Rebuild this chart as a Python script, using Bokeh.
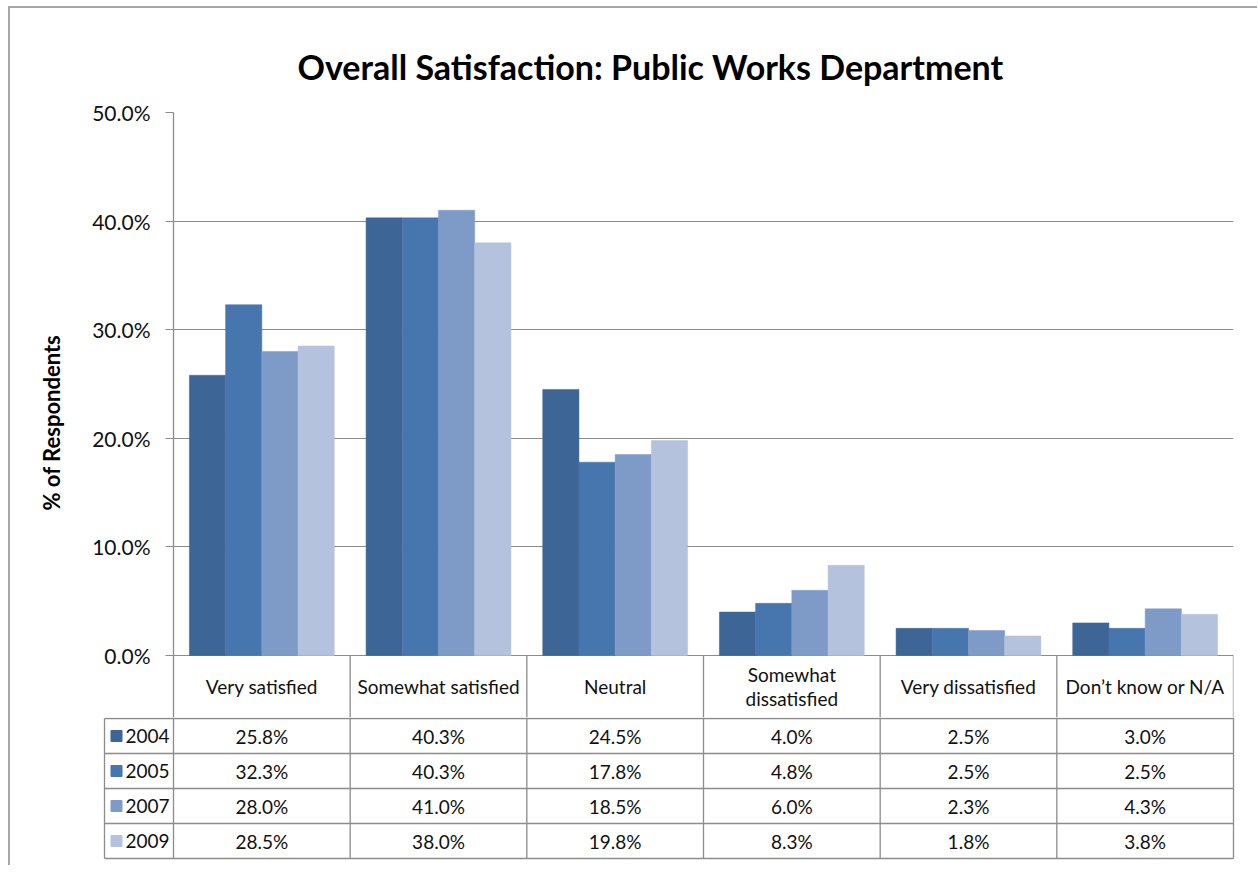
from bokeh.plotting import figure
from bokeh.models import Range1d, FixedTicker, PrintfTickFormatter, ColumnDataSource, Title
from bokeh.layouts import column
from bokeh.embed import file_html
from bokeh.resources import INLINE
from bokeh.core.properties import value

categories = ["Very satisfied", "Somewhat satisfied", "Neutral",
              "Somewhat\ndissatisfied", "Very dissatisfied", "Don\u2019t know or N/A"]
years = ["2004", "2005", "2007", "2009"]
v2004 = [25.8, 40.3, 24.5, 4.0, 2.5, 3.0]
v2005 = [32.3, 40.3, 17.8, 4.8, 2.5, 2.5]
v2007 = [28.0, 41.0, 18.5, 6.0, 2.3, 4.3]
v2009 = [28.5, 38.0, 19.8, 8.3, 1.8, 3.8]
series = [v2004, v2005, v2007, v2009]
colors = ["#3d6596", "#4775ae", "#7e9bc8", "#b4c2de"]
y_ticks = [0, 10, 20, 30, 40, 50]

FONT = "Lato"
GRID = "#8c8c8c"
TXT = "#111111"

W = 1249
PX = 1060 / 6.0          # pixels per category
PY = 543 / 50.0          # pixels per percent
HEAD_H = 64              # px height of the table header row (category names)
Y0 = -HEAD_H / PY

# ---------- chart (with table header row) ----------
p = figure(width=W, height=711, x_range=Range1d(0, 6), y_range=Range1d(Y0, 50),
           output_backend="svg", toolbar_location=None, x_axis_location=None,
           min_border_left=163, min_border_right=26, min_border_top=104,
           min_border_bottom=0, title="Overall Satisfaction: Public Works Department")
p.frame_align = False
p.outline_line_color = None
p.title.text_font = FONT
p.title.text_font_size = "34px"
p.title.text_font_style = "bold"
p.title.text_color = "#000000"
p.title.align = "left"
p.title.offset = 124
p.title.standoff = 51

bw = 0.205
for k, (vals, c) in enumerate(zip(series, colors)):
    xs = [i + 0.5 + (k - 1.5) * bw for i in range(len(categories))]
    src = ColumnDataSource(dict(x=xs, top=vals))
    p.vbar(x="x", top="top", bottom=0, width=bw, source=src,
           fill_color=c, line_color=c, line_width=0.5)

# header row column lines and category names
p.segment(x0=list(range(1, 7)), y0=[0] * 6, x1=list(range(1, 7)), y1=[Y0] * 6,
          line_color=GRID, line_width=1.3)
p.text(x=[i + 0.5 for i in range(6)], y=[Y0 / 2 + 1 / PY] * 6, text=categories,
       text_align="center", text_baseline="middle", text_font=value(FONT),
       text_font_size="19px", text_color=TXT, text_line_height=1.05)

p.xgrid.visible = False
p.ygrid.grid_line_color = GRID
p.ygrid.grid_line_width = 1.2
p.yaxis.ticker = FixedTicker(ticks=y_ticks)
p.yaxis.formatter = PrintfTickFormatter(format="%.1f%%")
p.yaxis.axis_line_color = GRID
p.yaxis.axis_line_width = 1.3
p.yaxis.major_tick_line_color = GRID
p.yaxis.major_tick_line_width = 1.2
p.yaxis.major_tick_out = 8
p.yaxis.major_tick_in = 0
p.yaxis.minor_tick_line_color = None
p.yaxis.major_label_text_font = FONT
p.yaxis.major_label_text_font_size = "21px"
p.yaxis.major_label_text_color = TXT
p.yaxis.major_label_standoff = 15

ylab = Title(text="% of Respondents", align="left", offset=209, standoff=49,
             text_font=FONT, text_font_size="22px", text_font_style="bold",
             text_color="#000000")
p.add_layout(ylab, "left")
p.styles = {"border-left": "2px solid #a6a6a6", "border-top": "2px solid #a6a6a6",
            "margin-left": "8px", "margin-top": "6px"}

# ---------- data table rows ----------
ROW = 35
TOP = 4 * ROW + 1
left_px = 173 - 100
t = figure(width=W, height=148,
           x_range=Range1d(-left_px / PX, 6 + 3 / PX), y_range=Range1d(-3, TOP),
           output_backend="svg", toolbar_location=None,
           x_axis_location=None, y_axis_location=None,
           min_border_left=90, min_border_right=23, min_border_top=0, min_border_bottom=4)
t.frame_align = False
t.outline_line_color = None
t.xgrid.visible = False
t.ygrid.visible = False
t.styles = {"border-left": "2px solid #a6a6a6", "margin-left": "8px"}

leg_left = -(173 - 104) / PX
row_y = [4 * ROW - (r + 0.5) * ROW for r in range(4)]

# column lines
t.segment(x0=list(range(7)) + [leg_left], y0=[0] * 8,
          x1=list(range(7)) + [leg_left], y1=[TOP] * 7 + [4 * ROW],
          line_color=GRID, line_width=1.3)
# row lines
hy = [r * ROW for r in range(5)]
t.segment(x0=[leg_left] * 5, y0=hy, x1=[6] * 5, y1=hy, line_color=GRID, line_width=1.3)

# values
tx, ty, tt = [], [], []
for r, vals in enumerate(series):
    for i, v in enumerate(vals):
        tx.append(i + 0.5)
        ty.append(row_y[r])
        tt.append(f"{v:.1f}%")
t.text(x=tx, y=ty, text=tt, text_align="center", text_baseline="middle",
       text_font=value(FONT), text_font_size="19px", text_color=TXT)

# legend keys
t.scatter(x=[(116 - 173) / PX] * 4, y=row_y, marker="square", size=11,
          fill_color=colors, line_color=colors)
t.text(x=[(125 - 173) / PX] * 4, y=row_y, text=years, text_align="left",
       text_baseline="middle", text_font=value(FONT), text_font_size="19px",
       text_color=TXT)

layout = column(p, t, spacing=0)
open("out.html", "w").write(file_html(layout, INLINE))
